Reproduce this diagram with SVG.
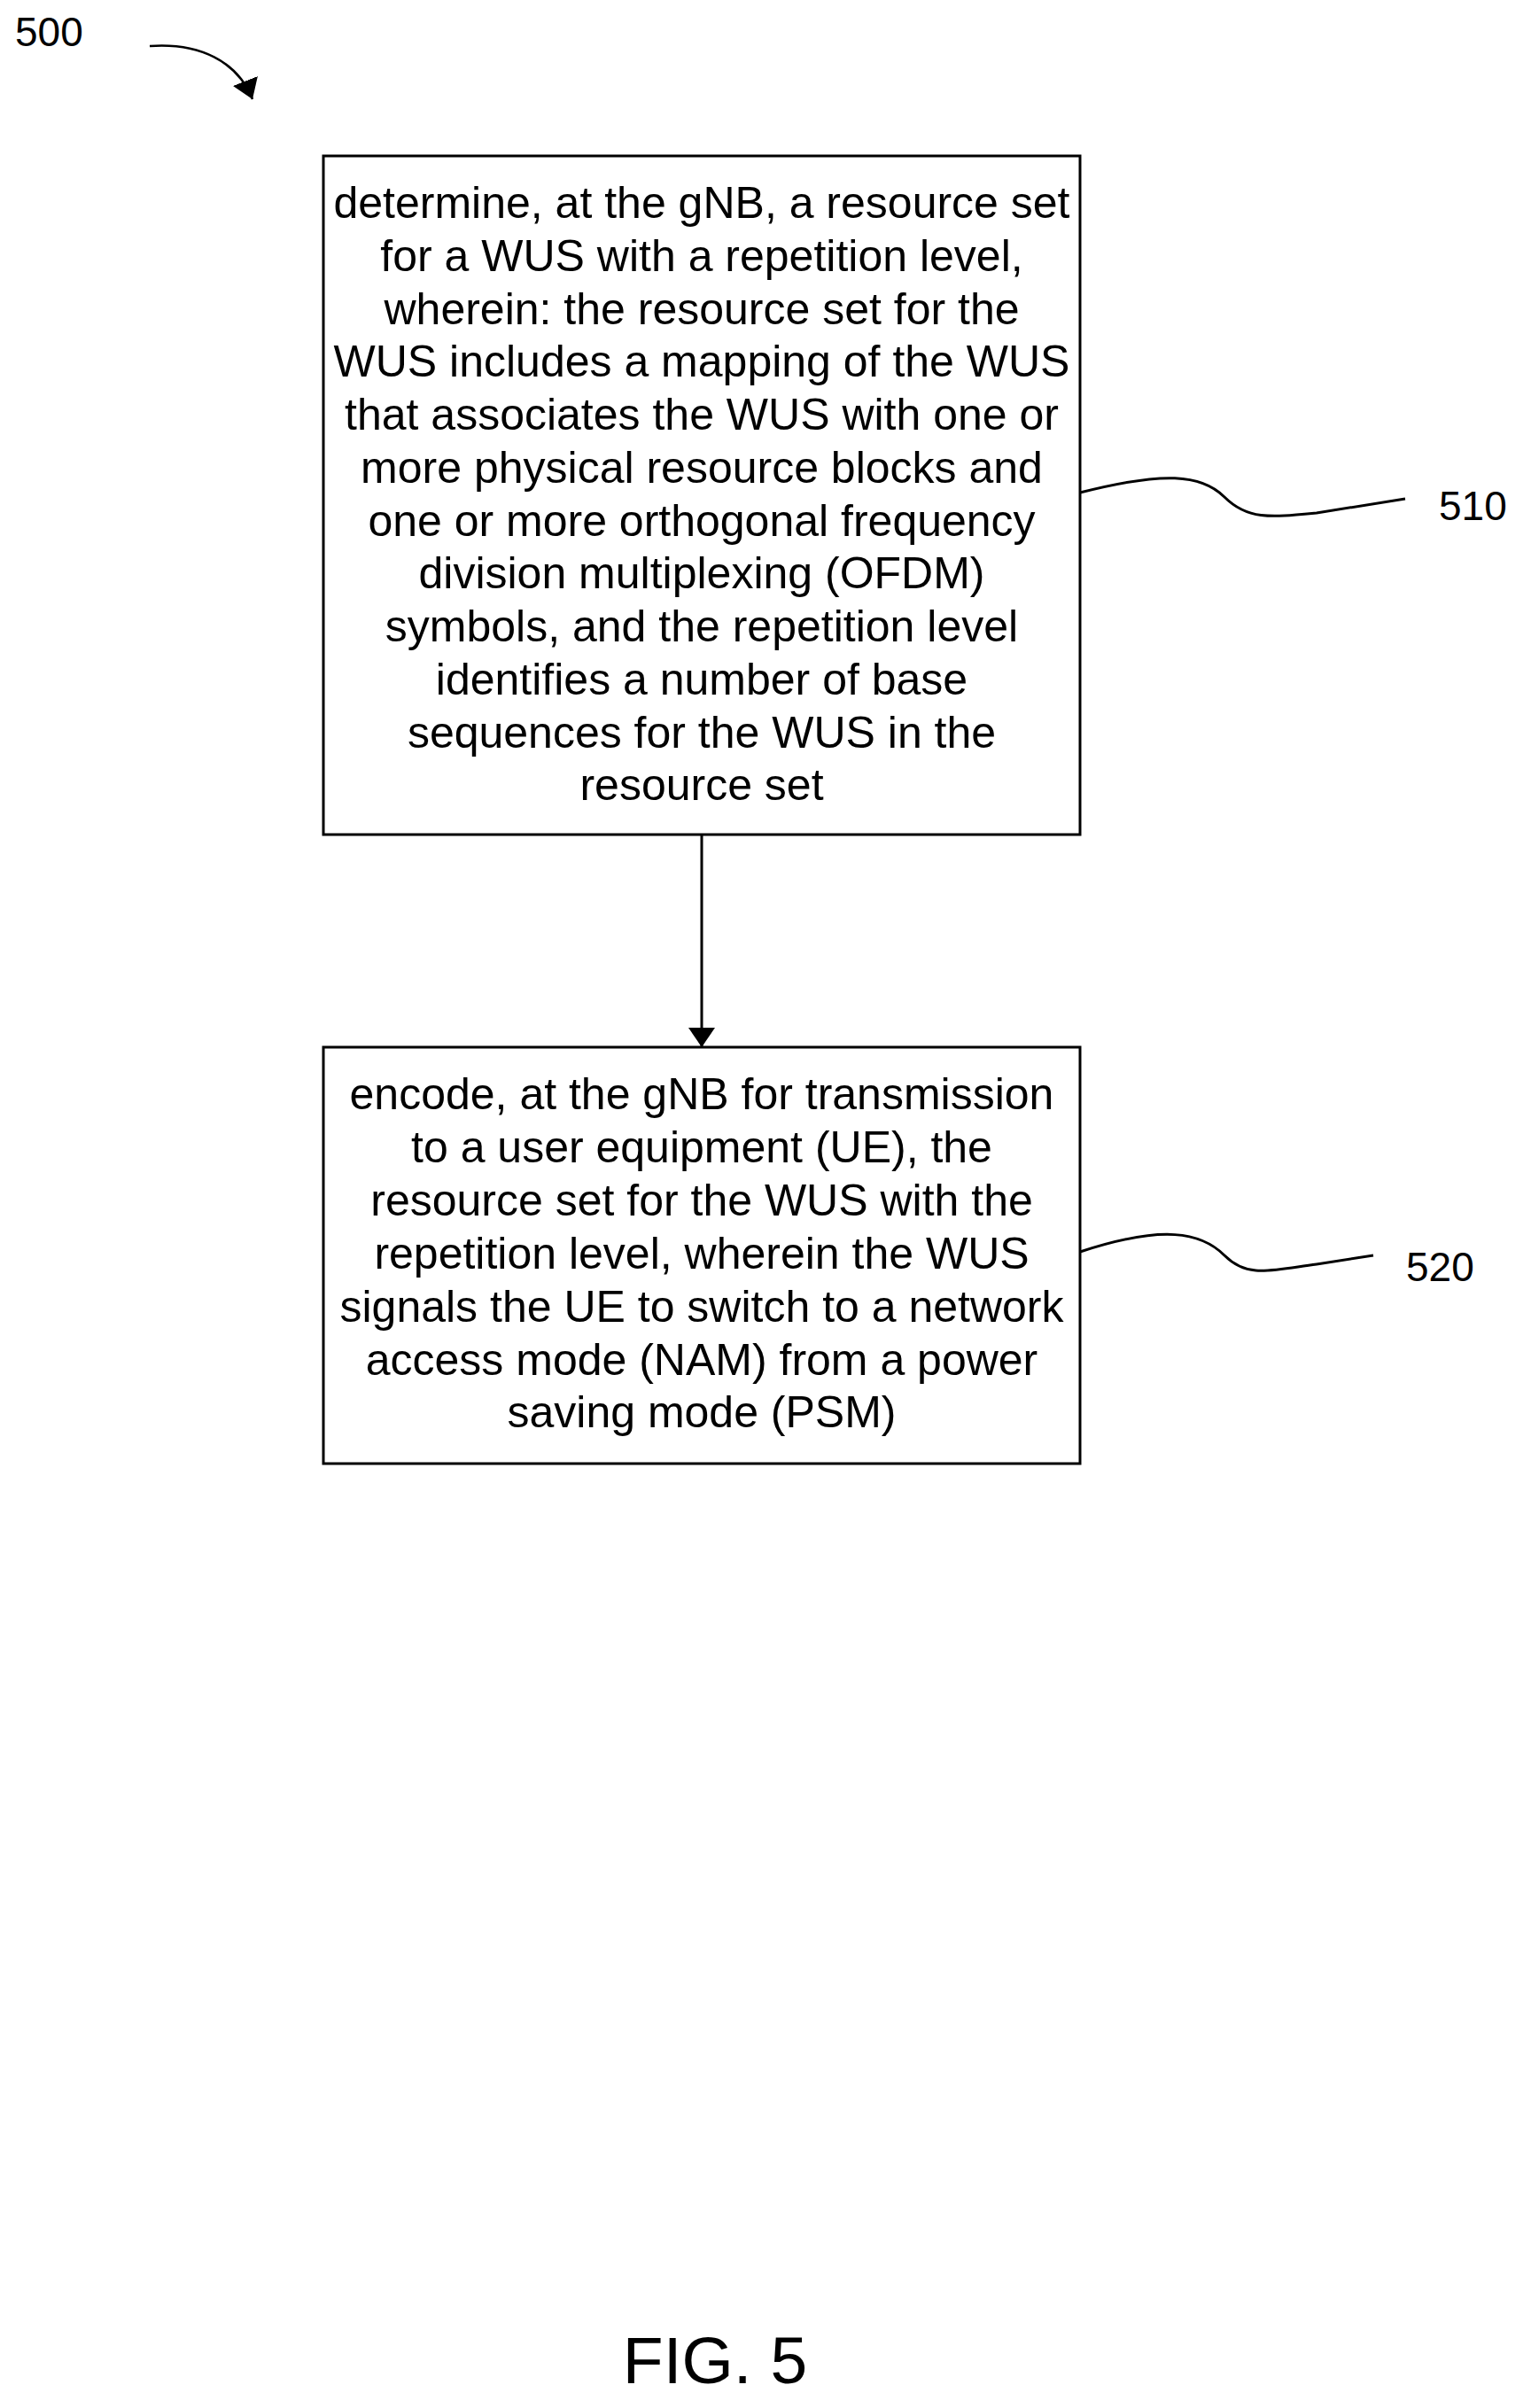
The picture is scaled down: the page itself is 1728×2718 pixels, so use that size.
<svg xmlns="http://www.w3.org/2000/svg" width="1728" height="2718" viewBox="0 0 1728 2718">
<style>
text{font-family:"Liberation Sans",Arial,sans-serif;fill:#000}
.t{font-size:50px;text-anchor:middle}
.l{font-size:46px}
.b{fill:#fff;stroke:#000;stroke-width:3}
.c{fill:none;stroke:#000;stroke-width:3}
</style>
<defs>
<marker id="ah2" markerWidth="22" markerHeight="30" refX="22" refY="15" orient="auto" markerUnits="userSpaceOnUse" viewBox="0 0 22 30"><path d="M0,0 L22,15 L0,30 z" fill="#000"/></marker></defs>
<text class="l" x="17" y="52">500</text>
<g id="connectors">
<path class="c" d="M169,52 C225,48 268,69 285,112" marker-end="url(#ah2)" style="stroke-width:2.5"/>
<path class="c" d="M792,942 L792,1182" marker-end="url(#ah2)"/>
<path class="c" d="M1219,556 C1313,532 1356,535 1382,561 C1408,587 1434,584 1486,579 L1586,563"/>
<path class="c" d="M1219,1413 C1313,1382 1356,1391 1382,1417 C1408,1443 1434,1434 1486,1427 L1550,1417"/>
</g>
<g id="n510">
<rect class="b" x="365" y="176" width="854" height="766"/>
<text class="t" x="792" y="246">determine, at the gNB, a resource set</text>
<text class="t" x="792" y="306">for a WUS with a repetition level,</text>
<text class="t" x="792" y="366">wherein: the resource set for the</text>
<text class="t" x="792" y="425">WUS includes a mapping of the WUS</text>
<text class="t" x="792" y="485">that associates the WUS with one or</text>
<text class="t" x="792" y="545">more physical resource blocks and</text>
<text class="t" x="792" y="605">one or more orthogonal frequency</text>
<text class="t" x="792" y="664">division multiplexing (OFDM)</text>
<text class="t" x="792" y="724">symbols, and the repetition level</text>
<text class="t" x="792" y="784">identifies a number of base</text>
<text class="t" x="792" y="844">sequences for the WUS in the</text>
<text class="t" x="792" y="903">resource set</text>
<text class="l" x="1624" y="587">510</text>
</g>
<g id="n520">
<rect class="b" x="365" y="1182" width="854" height="470"/>
<text class="t" x="792" y="1252">encode, at the gNB for transmission</text>
<text class="t" x="792" y="1312">to a user equipment (UE), the</text>
<text class="t" x="792" y="1372">resource set for the WUS with the</text>
<text class="t" x="792" y="1432">repetition level, wherein the WUS</text>
<text class="t" x="792" y="1492">signals the UE to switch to a network</text>
<text class="t" x="792" y="1552">access mode (NAM) from a power</text>
<text class="t" x="792" y="1611">saving mode (PSM)</text>
<text class="l" x="1587" y="1446">520</text>
</g>
<text x="807" y="2690" style="font-size:75px;text-anchor:middle">FIG. 5</text>
</svg>
